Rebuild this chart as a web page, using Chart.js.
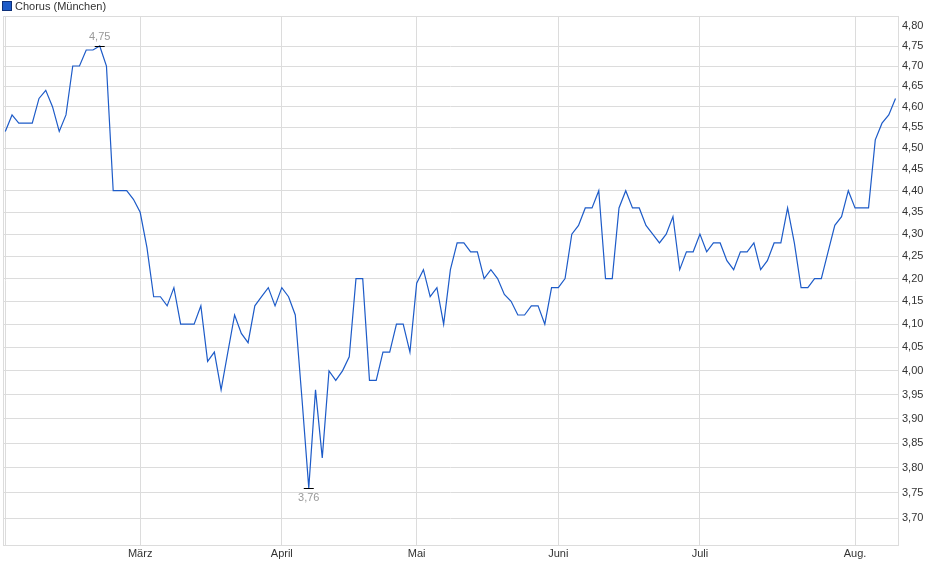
<!DOCTYPE html>
<html>
<head>
<meta charset="utf-8">
<script src="https://cdn.jsdelivr.net/npm/chart.js@4"></script>
<style>
  html, body { margin: 0; padding: 0; background: #fff; }
  #wrap { position: relative; width: 940px; height: 579px; }
</style>
</head>
<body>
<div id="wrap"><canvas id="myChart"></canvas></div>
<script>
(() => {
  'use strict'

  // daily closes, Munich (one per trading day, Feb - early Aug)
  const prices = [
    4.54, 4.58, 4.56, 4.56, 4.56, 4.62, 4.64, 4.60, 4.54, 4.58,
    4.70, 4.70, 4.74, 4.74, 4.75, 4.70, 4.40, 4.40, 4.40, 4.38,
    4.35, 4.27, 4.16, 4.16, 4.14, 4.18, 4.10, 4.10, 4.10, 4.14,
    4.02, 4.04, 3.96, 4.04, 4.12, 4.08, 4.06, 4.14, 4.16, 4.18,
    4.14, 4.18, 4.16, 4.12, 3.94, 3.76, 3.96, 3.82, 4.00, 3.98,
    4.00, 4.03, 4.20, 4.20, 3.98, 3.98, 4.04, 4.04, 4.10, 4.10,
    4.04, 4.19, 4.22, 4.16, 4.18, 4.10, 4.22, 4.28, 4.28, 4.26,
    4.26, 4.20, 4.22, 4.20, 4.165, 4.15, 4.12, 4.12, 4.14, 4.14,
    4.10, 4.18, 4.18, 4.20, 4.30, 4.32, 4.36, 4.36, 4.40, 4.20,
    4.20, 4.36, 4.40, 4.36, 4.36, 4.32, 4.30, 4.28, 4.30, 4.34,
    4.22, 4.26, 4.26, 4.30, 4.26, 4.28, 4.28, 4.24, 4.22, 4.26,
    4.26, 4.28, 4.22, 4.24, 4.28, 4.28, 4.36, 4.28, 4.18, 4.18,
    4.20, 4.20, 4.26, 4.32, 4.34, 4.40, 4.36, 4.36, 4.36, 4.52,
    4.56, 4.58, 4.62
  ]

  // month labels and the trading-day index where each month starts
  const months = ['', 'März', 'April', 'Mai', 'Juni', 'Juli', 'Aug.']
  const monthStart = [0, 20, 41, 61, 82, 103, 126]

  // y axis tick labels
  const yTicks = [3.70, 3.75, 3.80, 3.85, 3.90, 3.95, 4.00, 4.05, 4.10, 4.15, 4.20,
    4.25, 4.30, 4.35, 4.40, 4.45, 4.50, 4.55, 4.60, 4.65, 4.70, 4.75, 4.80]

  const seriesName = 'Chorus (München)'
  const lineColor = '#1d5bc8'
  const gridColor = '#dcdcdc'
  const fontFamily = '"Liberation Sans", Arial, sans-serif'

  const fmt = v => v.toFixed(2).replace('.', ',')

  const points = prices.map((v, i) => ({ x: i, y: v }))

  // frame, legend and hi/lo markers
  const extras = {
    id: 'extras',
    beforeDatasetsDraw(chart) {
      const { ctx, chartArea: a } = chart
      ctx.save()
      ctx.strokeStyle = gridColor
      ctx.lineWidth = 1
      ctx.strokeRect(a.left + 0.5, a.top + 0.5, a.right - a.left, a.bottom - a.top)
      ctx.restore()
    },
    afterDraw(chart) {
      const { ctx } = chart
      const xs = chart.scales.x
      const ys = chart.scales.y
      ctx.save()
      // legend
      ctx.fillStyle = lineColor
      ctx.fillRect(3, 2, 8, 8)
      ctx.strokeStyle = '#0d2f78'
      ctx.lineWidth = 1
      ctx.strokeRect(2.5, 1.5, 9, 9)
      ctx.fillStyle = '#333'
      ctx.font = '11px ' + fontFamily
      ctx.textBaseline = 'middle'
      ctx.textAlign = 'left'
      ctx.fillText(seriesName, 15, 6.5)

      // high / low
      const hi = prices.indexOf(Math.max(...prices))
      const lo = prices.indexOf(Math.min(...prices))
      ctx.textAlign = 'center'
      ;[[hi, -9.5], [lo, 9.5]].forEach(([i, dy]) => {
        const px = xs.getPixelForValue(i)
        const py = Math.round(ys.getPixelForValue(prices[i])) + 0.5
        ctx.strokeStyle = '#000'
        ctx.beginPath()
        ctx.moveTo(px - 5, py)
        ctx.lineTo(px + 5, py)
        ctx.stroke()
        ctx.fillStyle = '#999'
        ctx.fillText(fmt(prices[i]), px, py + dy)
      })
      ctx.restore()
    }
  }

  const ctx = document.getElementById('myChart')

  new Chart(ctx, {
    type: 'line',
    data: {
      datasets: [{
        label: seriesName,
        data: points,
        borderColor: lineColor,
        borderWidth: 1.2,
        pointRadius: 0,
        pointHoverRadius: 0,
        tension: 0,
        fill: false
      }]
    },
    options: {
      responsive: true,
      maintainAspectRatio: false,
      animation: false,
      layout: { padding: { top: 16, left: 3, right: 0, bottom: 0 } },
      plugins: {
        legend: { display: false },
        tooltip: { enabled: false }
      },
      scales: {
        x: {
          type: 'linear',
          min: -0.34,
          max: 132.37,
          afterBuildTicks: s => { s.ticks = monthStart.map(v => ({ value: v })) },
          afterFit: s => { s.height = 34 },
          grid: { color: gridColor, drawTicks: false },
          border: { color: gridColor },
          ticks: {
            autoSkip: false,
            maxRotation: 0,
            padding: 2,
            color: '#333',
            font: { family: fontFamily, size: 11 },
            callback: v => months[monthStart.indexOf(v)] || ''
          }
        },
        y: {
          type: 'logarithmic',
          position: 'right',
          min: 3.648,
          max: 4.826,
          afterBuildTicks: s => { s.ticks = yTicks.map(v => ({ value: v })) },
          afterFit: s => { s.width = 42 },
          grid: {
            drawTicks: false,
            color: c => (c.tick && c.tick.value > 4.79) ? 'rgba(0,0,0,0)' : gridColor
          },
          border: { color: gridColor },
          ticks: {
            padding: 4,
            color: '#333',
            font: { family: fontFamily, size: 11 },
            callback: v => fmt(v)
          }
        }
      }
    },
    plugins: [extras]
  })
})()
</script>
</body>
</html>
